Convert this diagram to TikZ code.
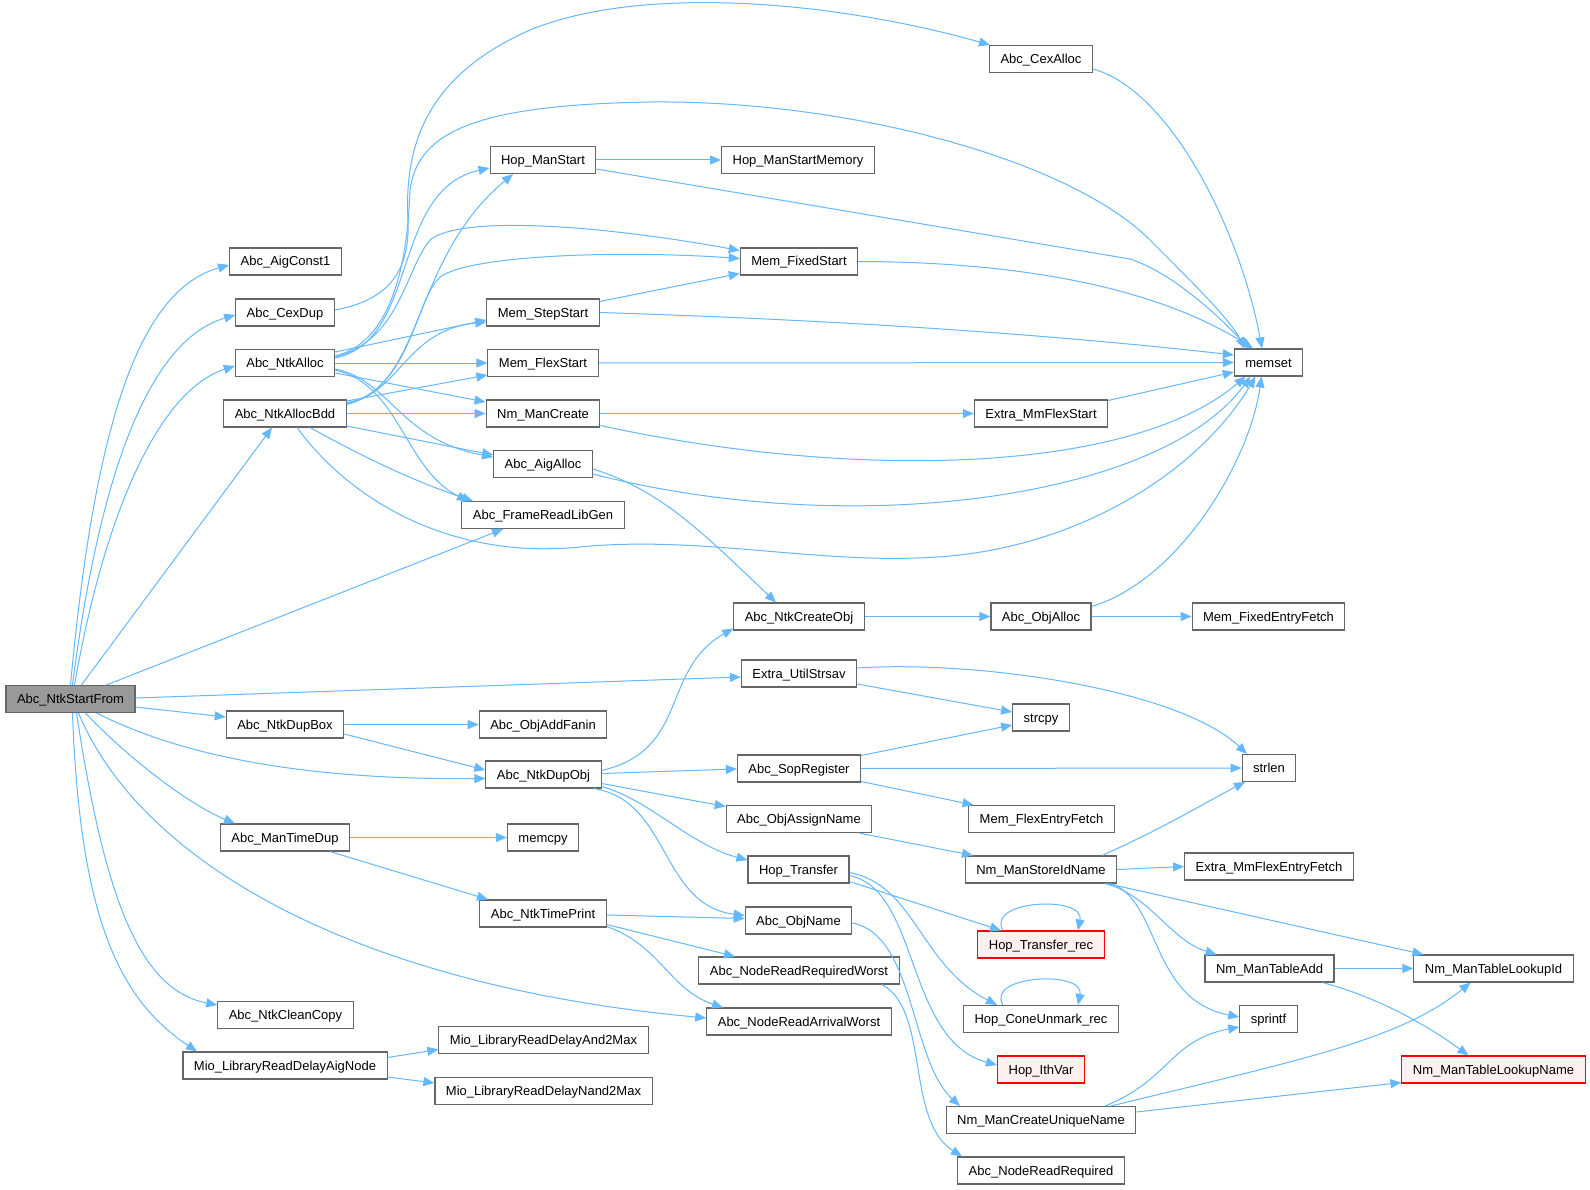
\documentclass[tikz,border=0pt]{standalone}
\usepackage{fontspec}
\setmainfont{Liberation Sans}
\usetikzlibrary{arrows.meta}
\definecolor{edgeblue}{HTML}{63B8FF}
\definecolor{boxgray}{HTML}{666666}
\definecolor{startgray}{HTML}{999999}
\definecolor{redfill}{HTML}{FFF0F0}
\begin{document}
\begin{tikzpicture}[x=1pt,y=-1pt,
 box/.style={draw=boxgray, fill=white, line width=1.1pt, minimum height=27pt, inner xsep=11pt, inner ysep=0pt, text height=9.5pt, text depth=0.5pt, font=\fontsize{13}{15}\selectfont},
 startbox/.style={box, fill=startgray},
 redbox/.style={box, draw=red, fill=redfill},
 edge/.style={draw=edgeblue, line width=1pt, -{Triangle[length=11pt,width=9pt]}}]
\fill[white] (0,0) rectangle (1590,1190);
\useasboundingbox (0,0) rectangle (1590,1190);

% nodes
\node[startbox] (startfrom) at (70.5,699) {Abc\_NtkStartFrom};
\node[box] (aigconst1) at (285.5,261.5) {Abc\_AigConst1};
\node[box] (cexdup) at (285,312.5) {Abc\_CexDup};
\node[box] (ntkalloc) at (285,363) {Abc\_NtkAlloc};
\node[box] (ntkallocbdd) at (285,413.5) {Abc\_NtkAllocBdd};
\node[box] (cexalloc) at (1041,59) {Abc\_CexAlloc};
\node[box] (hopmanstart) at (543,160) {Hop\_ManStart};
\node[box] (hopmanstartmemory) at (798,160) {Hop\_ManStartMemory};
\node[box] (memfixedstart) at (799,261.5) {Mem\_FixedStart};
\node[box] (memstepstart) at (543,312.5) {Mem\_StepStart};
\node[box] (memflexstart) at (543,363) {Mem\_FlexStart};
\node[box] (nmmancreate) at (543,413.5) {Nm\_ManCreate};
\node[box] (aigalloc) at (543,464) {Abc\_AigAlloc};
\node[box] (framereadlibgen) at (543,515) {Abc\_FrameReadLibGen};
\node[box] (memset) at (1268.5,362.5) {memset};
\node[box] (extrammflexstart) at (1041,413.5) {Extra\_MmFlexStart};
\node[box] (ntkcreateobj) at (799,616.5) {Abc\_NtkCreateObj};
\node[box] (objalloc) at (1041,616.5) {Abc\_ObjAlloc};
\node[box] (memfixedentryfetch) at (1268.5,616.5) {Mem\_FixedEntryFetch};
\node[box] (extrautilstrsav) at (799,673.5) {Extra\_UtilStrsav};
\node[box] (strcpy) at (1041,717.5) {strcpy};
\node[box] (strlen) at (1269,768) {strlen};
\node[box] (ntkdupbox) at (285,724.5) {Abc\_NtkDupBox};
\node[box] (objaddfanin) at (543,724.5) {Abc\_ObjAddFanin};
\node[box] (ntkdupobj) at (543.5,774.5) {Abc\_NtkDupObj};
\node[box] (sopregister) at (799,768.5) {Abc\_SopRegister};
\node[box] (memflexentryfetch) at (1041.5,819) {Mem\_FlexEntryFetch};
\node[box] (objassignname) at (799,819) {Abc\_ObjAssignName};
\node[box] (mantimedup) at (285,837.5) {Abc\_ManTimeDup};
\node[box] (memcpy) at (543,837.5) {memcpy};
\node[box] (hoptransfer) at (798.5,869.5) {Hop\_Transfer};
\node[box] (nmmanstoreidname) at (1041,869.5) {Nm\_ManStoreIdName};
\node[box] (extrammflexentryfetch) at (1269,866.5) {Extra\_MmFlexEntryFetch};
\node[box] (ntktimeprint) at (543,913.5) {Abc\_NtkTimePrint};
\node[box] (objname) at (798.5,920.5) {Abc\_ObjName};
\node[redbox] (hoptransferrec) at (1041,944.5) {Hop\_Transfer\_rec};
\node[box] (nodereadrequiredworst) at (799,970.5) {Abc\_NodeReadRequiredWorst};
\node[box] (nmmantableadd) at (1269.5,968.5) {Nm\_ManTableAdd};
\node[box] (nmmantablelookupid) at (1493.5,968.5) {Nm\_ManTableLookupId};
\node[box] (ntkcleancopy) at (285.5,1015) {Abc\_NtkCleanCopy};
\node[box] (nodereadarrivalworst) at (799,1021.5) {Abc\_NodeReadArrivalWorst};
\node[box] (hopconeunmarkrec) at (1041,1019) {Hop\_ConeUnmark\_rec};
\node[box] (sprintf) at (1268.5,1019) {sprintf};
\node[box] (mioaignode) at (285,1065.5) {Mio\_LibraryReadDelayAigNode};
\node[box] (mioand2max) at (543.5,1040) {Mio\_LibraryReadDelayAnd2Max};
\node[box] (mionand2max) at (543.5,1091) {Mio\_LibraryReadDelayNand2Max};
\node[redbox] (hopithvar) at (1041,1069.5) {Hop\_IthVar};
\node[redbox] (nmmantablelookupname) at (1493.5,1069.5) {Nm\_ManTableLookupName};
\node[box] (nmmancreateuniquename) at (1041,1120) {Nm\_ManCreateUniqueName};
\node[box] (nodereadrequired) at (1041,1170.5) {Abc\_NodeReadRequired};

% edges from Abc_NtkStartFrom
\draw[edge] (startfrom.north) .. controls (95,420) and (140,290) .. ([yshift=-3.5pt]aigconst1.west);
\draw[edge] ([xshift=2pt]startfrom.north) .. controls (100,470) and (150,340) .. ([yshift=-2.5pt]cexdup.west);
\draw[edge] ([xshift=4pt]startfrom.north) .. controls (105,510) and (160,390) .. ([yshift=-3pt]ntkalloc.west);
\draw[edge] ([xshift=11pt]startfrom.north) -- ([xshift=-13pt]ntkallocbdd.south);
\draw[edge] ([xshift=36pt]startfrom.north) -- ([xshift=-40pt]framereadlibgen.south);
\draw[edge] ([yshift=1pt]startfrom.east) -- ([yshift=-3.5pt]extrautilstrsav.west);
\draw[edge] ([yshift=-8pt]startfrom.east) -- ([yshift=7.5pt]ntkdupbox.west);
\draw[edge] ([xshift=26pt]startfrom.south) .. controls (180,755) and (300,780) .. ([yshift=-4pt]ntkdupobj.west);
\draw[edge] ([xshift=15pt]startfrom.south) .. controls (130,760) and (190,805) .. ([xshift=-50pt]mantimedup.north);
\draw[edge] ([xshift=8pt]startfrom.south) .. controls (140,860) and (350,985) .. ([yshift=3.5pt]nodereadarrivalworst.west);
\draw[edge] ([xshift=6pt]startfrom.south) .. controls (105,900) and (140,990) .. ([yshift=10pt]ntkcleancopy.west);
\draw[edge] ([xshift=2pt]startfrom.south) .. controls (80,920) and (120,1000) .. ([xshift=-88pt]mioaignode.north);

% Abc_CexDup / Abc_CexAlloc
\draw[edge] ([yshift=2.5pt]cexdup.east) .. controls (390,300) and (410,270) .. (408,220)
  .. controls (403,130) and (440,70) .. (530,30)
  .. controls (640,-15) and (830,0) .. ([xshift=1pt]cexalloc.north west);
\draw[edge] ([yshift=-10pt]cexalloc.east) .. controls (1170,90) and (1240,230) .. ([xshift=-6.5pt]memset.north);

% Abc_NtkAlloc and Abc_NtkAllocBdd
\draw[edge] ([yshift=5pt]ntkalloc.east) .. controls (420,340) and (390,190) .. ([yshift=-8pt]hopmanstart.west);
\draw[edge] ([yshift=9pt]ntkallocbdd.east) .. controls (425,385) and (410,260) .. ([xshift=-30pt]hopmanstart.south);
\draw[edge] ([yshift=7pt]ntkalloc.east) .. controls (400,340) and (408,240) .. (410,190)
  .. controls (418,130) and (480,105) .. (650,102)
  .. controls (850,100) and (1070,160) .. (1150,240)
  .. controls (1200,290) and (1230,320) .. ([xshift=-23.5pt]memset.north);
\draw[edge] ([yshift=6pt]ntkalloc.east) .. controls (400,340) and (405,270) .. (430,240)
  .. controls (460,215) and (600,225) .. ([yshift=11pt]memfixedstart.west);
\draw[edge] ([yshift=10pt]ntkallocbdd.east) .. controls (410,390) and (415,300) .. (440,277)
  .. controls (470,255) and (620,250) .. ([yshift=3pt]memfixedstart.west);
\draw[edge] ([yshift=11pt]ntkalloc.east) -- ([yshift=-7.5pt]memstepstart.west);
\draw[edge] ([yshift=11pt]ntkallocbdd.east) .. controls (400,395) and (405,330) .. ([yshift=-9.5pt]memstepstart.west);
\draw[edge] (ntkalloc.east) -- (memflexstart.west);
\draw[edge] ([yshift=12.5pt]ntkallocbdd.east) -- ([yshift=-12pt]memflexstart.west);
\draw[edge] ([yshift=-10pt]ntkalloc.east) -- ([yshift=11.5pt]nmmancreate.west);
\draw[edge] (ntkallocbdd.east) -- (nmmancreate.west);
\draw[edge] ([yshift=-6pt]ntkalloc.east) .. controls (390,380) and (400,440) .. ([yshift=7pt]aigalloc.west);
\draw[edge] ([yshift=-12.5pt]ntkallocbdd.east) -- ([yshift=9pt]aigalloc.west);
\draw[edge] ([yshift=-7pt]ntkalloc.east) .. controls (400,385) and (405,470) .. ([xshift=-75pt]framereadlibgen.north);
\draw[edge] ([xshift=25pt]ntkallocbdd.south) .. controls (360,455) and (410,480) .. ([xshift=-70pt]framereadlibgen.north);
\draw[edge] ([xshift=12pt]ntkallocbdd.south) .. controls (350,500) and (450,560) .. (580,547)
  .. controls (700,535) and (820,565) .. (937,557)
  .. controls (1080,548) and (1200,470) .. ([xshift=-13pt]memset.south);

% second column to memset etc.
\draw[edge] (hopmanstart.east) -- (hopmanstartmemory.west);
\draw[edge] ([yshift=-9pt]hopmanstart.east) -- (1130,259) .. controls (1170,272) and (1215,312) .. ([xshift=-19.5pt]memset.north);
\draw[edge] (memfixedstart.east) .. controls (1030,262) and (1160,290) .. ([xshift=-15.5pt]memset.north);
\draw[edge] ([yshift=11pt]memstepstart.east) -- ([yshift=-12pt]memfixedstart.west);
\draw[edge] (memstepstart.east) .. controls (900,322) and (1100,340) .. ([yshift=7.5pt]memset.west);
\draw[edge] (memflexstart.east) -- (memset.west);
\draw[edge] (nmmancreate.east) -- (extrammflexstart.west);
\draw[edge] ([yshift=-12pt]nmmancreate.east) .. controls (850,480) and (1130,475) .. ([xshift=-23pt]memset.south);
\draw[edge] ([yshift=13pt]extrammflexstart.east) -- ([yshift=-9.5pt]memset.west);
\draw[edge] ([yshift=-10pt]aigalloc.east) .. controls (850,540) and (1160,500) .. ([xshift=-18pt]memset.south);
\draw[edge] ([yshift=-5pt]aigalloc.east) .. controls (660,490) and (700,530) .. ([xshift=-23pt]ntkcreateobj.north);
\draw[edge] (ntkcreateobj.east) -- (objalloc.west);
\draw[edge] ([yshift=10pt]objalloc.east) .. controls (1180,580) and (1250,460) .. ([xshift=-7pt]memset.south);
\draw[edge] (objalloc.east) -- (memfixedentryfetch.west);

% strings
\draw[edge] ([yshift=-10.5pt]extrautilstrsav.east) -- ([yshift=5.5pt]strcpy.west);
\draw[edge] ([yshift=5.5pt]extrautilstrsav.east) .. controls (980,660) and (1180,690) .. ([xshift=-22pt]strlen.north);

% Abc_NtkDupBox / Abc_NtkDupObj
\draw[edge] (ntkdupbox.east) -- (objaddfanin.west);
\draw[edge] ([yshift=-9.5pt]ntkdupbox.east) -- ([yshift=4.5pt]ntkdupobj.west);
\draw[edge] ([yshift=4pt]ntkdupobj.east) .. controls (690,750) and (660,670) .. ([yshift=-12pt]ntkcreateobj.west);
\draw[edge] ([yshift=1pt]ntkdupobj.east) -- ([yshift=-0.5pt]sopregister.west);
\draw[edge] ([yshift=-9pt]ntkdupobj.east) -- ([yshift=12.5pt]objassignname.west);
\draw[edge] ([yshift=-12pt]ntkdupobj.east) .. controls (650,800) and (690,845) .. ([yshift=9.5pt]hoptransfer.west);
\draw[edge] ([xshift=50pt]ntkdupobj.south) .. controls (670,800) and (660,905) .. ([yshift=5pt]objname.west);

\draw[edge] ([yshift=13pt]sopregister.east) -- ([yshift=-7.5pt]strcpy.west);
\draw[edge] (sopregister.east) -- (strlen.west);
\draw[edge] ([yshift=-13pt]sopregister.east) -- ([xshift=-68pt]memflexentryfetch.north);
\draw[edge] ([xshift=60pt]objassignname.south) -- ([xshift=-68pt]nmmanstoreidname.north);

% Hop_Transfer
\draw[edge] ([yshift=-12pt]hoptransfer.east) -- ([xshift=-40pt]hoptransferrec.north);
\draw[edge] ([yshift=-3pt]hoptransfer.east) .. controls (915,885) and (920,965) .. ([xshift=-44pt]hopconeunmarkrec.north);
\draw[edge] ([yshift=-6pt]hoptransfer.east) .. controls (920,890) and (905,1040) .. ([yshift=4.5pt]hopithvar.west);
\draw[edge] ([xshift=-38pt]hoptransferrec.north) .. controls (985,900) and (1085,895) .. ([xshift=37pt]hoptransferrec.north);
\draw[edge] ([xshift=-38pt]hopconeunmarkrec.north) .. controls (985,975) and (1085,970) .. ([xshift=37pt]hopconeunmarkrec.north);

\draw[edge] ([yshift=-2.5pt]objname.east) .. controls (915,935) and (910,1060) .. ([xshift=-81pt]nmmancreateuniquename.north);
\draw[edge] ([xshift=83pt]nodereadrequiredworst.south) .. controls (930,1010) and (905,1120) .. ([xshift=-79pt]nodereadrequired.north);

% Nm_ManStoreIdName
\draw[edge] ([xshift=61pt]nmmanstoreidname.north) .. controls (1160,830) and (1210,800) .. ([xshift=-24pt]strlen.south);
\draw[edge] (nmmanstoreidname.east) -- (extrammflexentryfetch.west);
\draw[edge] ([xshift=64pt]nmmanstoreidname.south) .. controls (1150,895) and (1170,940) .. ([xshift=-53pt]nmmantableadd.north);
\draw[edge] ([xshift=66pt]nmmanstoreidname.south) -- ([xshift=-70pt]nmmantablelookupid.north);
\draw[edge] ([xshift=70pt]nmmanstoreidname.south) .. controls (1160,900) and (1150,1000) .. ([yshift=2pt]sprintf.west);

\draw[edge] (nmmantableadd.east) -- (nmmantablelookupid.west);
\draw[edge] ([xshift=53pt]nmmantableadd.south) .. controls (1370,995) and (1420,1020) .. ([xshift=-25pt]nmmantablelookupname.north);

\draw[edge] ([xshift=64pt]nmmancreateuniquename.north) .. controls (1170,1080) and (1170,1040) .. ([yshift=-8pt]sprintf.west);
\draw[edge] ([xshift=70pt]nmmancreateuniquename.north) .. controls (1300,1060) and (1400,1040) .. ([xshift=-23pt]nmmantablelookupid.south);
\draw[edge] ([yshift=8pt]nmmancreateuniquename.east) -- ([yshift=-13pt]nmmantablelookupname.west);

% Abc_ManTimeDup / Abc_NtkTimePrint
\draw[edge] (mantimedup.east) -- (memcpy.west);
\draw[edge] ([xshift=45pt]mantimedup.south) -- ([xshift=-55pt]ntktimeprint.north);
\draw[edge] ([yshift=-1.5pt]ntktimeprint.east) -- ([yshift=2pt]objname.west);
\draw[edge] ([yshift=-11pt]ntktimeprint.east) -- ([xshift=-64pt]nodereadrequiredworst.north);
\draw[edge] ([yshift=-13pt]ntktimeprint.east) .. controls (660,945) and (670,990) .. ([xshift=-76pt]nodereadarrivalworst.north);

% Mio
\draw[edge] ([yshift=8pt]mioaignode.east) -- ([yshift=-9.5pt]mioand2max.west);
\draw[edge] ([yshift=-11.5pt]mioaignode.east) -- ([yshift=8pt]mionand2max.west);
\end{tikzpicture}
\end{document}
